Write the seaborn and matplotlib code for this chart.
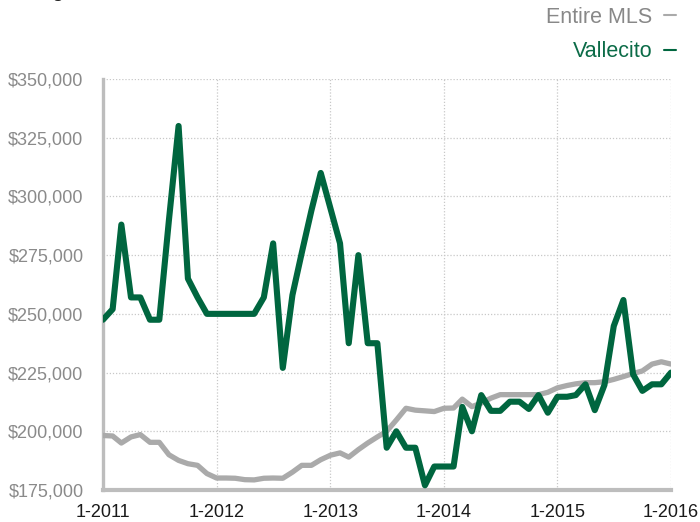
"""
Median price, Vallecito vs entire MLS, monthly 2011-2016
"""
import pandas as pd
import matplotlib
matplotlib.use("Agg")
import matplotlib.pyplot as plt
import matplotlib.dates as mdates
from matplotlib.lines import Line2D
from matplotlib.ticker import FuncFormatter
import seaborn as sns

months = pd.date_range("2011-01-01", "2016-01-01", freq="MS")

vallecito = [247.5, 252, 288, 257, 257, 247.5, 247.5, 290, 330, 265, 257, 250,
             250, 250, 250, 250, 250, 257, 280, 227, 258, 276, 294, 310,
             295, 280, 237.5, 275, 237.5, 237.5, 193, 200, 193, 193, 177, 185,
             185, 185, 210.4, 200, 215.4, 208.7, 208.7, 212.6, 212.6, 209.5, 215.4, 207.9,
             214.7, 214.7, 215.4, 220, 209, 219.7, 244.8, 255.9, 224.3, 217.2, 220, 220, 225]

entire_mls = [198.2, 198, 195, 197.6, 198.6, 195.3, 195.3, 190, 187.6, 186.2, 185.5, 182,
              180.1, 180.1, 180, 179.4, 179.3, 180, 180.1, 180, 182.6, 185.5, 185.5, 187.9,
              189.8, 190.8, 189, 192.2, 195, 197.6, 200, 204.8, 209.8, 209, 208.7, 208.4,
              209.8, 209.9, 213.7, 210.5, 212, 214.1, 215.6, 215.6, 215.6, 215.6, 215.6, 216.6,
              218.5, 219.5, 220.2, 220.7, 220.7, 221.1, 222.1, 223.3, 224.6, 225.7, 228.6, 229.6, 228.6]

series_names = ["Entire MLS", "Vallecito"]
colors = {"Entire MLS": "#aaaaaa", "Vallecito": "#00663f"}
label_colors = {"Entire MLS": "#888888", "Vallecito": "#0b6b47"}
y_ticks = [175000, 200000, 225000, 250000, 275000, 300000, 325000, 350000]

df = pd.DataFrame({
    "Month": list(months) * 2,
    "Price": [v * 1000 for v in entire_mls] + [v * 1000 for v in vallecito],
    "Series": ["Entire MLS"] * len(months) + ["Vallecito"] * len(months),
})

sns.set_style("white")
plt.rcParams["font.family"] = ["Liberation Sans", "DejaVu Sans"]

fig = plt.figure(figsize=(7, 5.22), dpi=100)
ax = fig.add_axes([103 / 700, 1 - 490 / 522, 568 / 700, 411 / 522])

sns.lineplot(data=df[df["Series"] == "Entire MLS"], x="Month", y="Price",
             color=colors["Entire MLS"], lw=3.8, ax=ax, legend=False, zorder=3)
sns.lineplot(data=df[df["Series"] == "Vallecito"], x="Month", y="Price",
             color=colors["Vallecito"], lw=4.4, ax=ax, legend=False, zorder=4)

ax.set_xlim(months[0], months[-1])
ax.set_ylim(175000, 350000)
ax.set_yticks(y_ticks)
ax.yaxis.set_major_formatter(FuncFormatter(lambda v, p: f"${v:,.0f}"))
ax.xaxis.set_major_locator(mdates.YearLocator())
ax.xaxis.set_major_formatter(FuncFormatter(lambda v, p: f"1-{mdates.num2date(v).year}"))
ax.set_xlabel("")
ax.set_ylabel("")

ax.grid(True, color="#c8c8c8", linestyle=(0, (1, 1.5)), lw=0.9, zorder=0)
for s in ["top", "right"]:
    ax.spines[s].set_visible(False)
ax.spines["left"].set_color("#bdbdbd")
ax.spines["left"].set_linewidth(2.4)
ax.spines["bottom"].set_color("#bdbdbd")
ax.spines["bottom"].set_linewidth(3)
ax.tick_params(axis="y", length=0, pad=14, labelsize=13, labelcolor="#8a8a8a")
ax.tick_params(axis="x", length=4, width=3, color="#cccccc", pad=6,
               labelsize=13, labelcolor="#1a1a1a")

# title sits mostly above the canvas, as in the source image
fig.text(0.0, 1 + 3 / 522, "Rolling 12-Month Calculation", fontsize=15,
         color="#222222", ha="left", va="baseline")

handles = [Line2D([0], [0], color=colors[n], lw=1.5) for n in series_names]
fig.legend(handles, series_names, loc="upper right",
           bbox_to_anchor=(676 / 700, 1 - 7 / 522), frameon=False,
           markerfirst=False, handlelength=0.55, handletextpad=0.55,
           labelspacing=0.62, borderpad=0, borderaxespad=0, fontsize=15.5,
           labelcolor=[label_colors[n] for n in series_names])

plt.savefig("out.png", dpi=100)
